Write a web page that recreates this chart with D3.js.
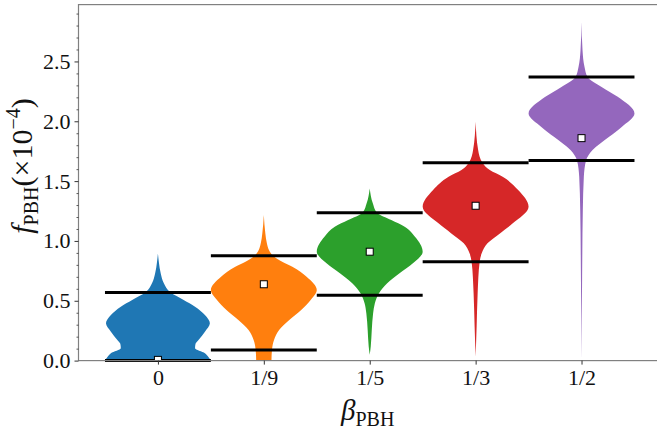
<!DOCTYPE html>
<html>
<head>
<meta charset="utf-8">
<script src="https://cdn.jsdelivr.net/npm/d3@7"></script>
<style>
  html, body { margin: 0; padding: 0; background: #fff; }
  svg { display: block; }
</style>
</head>
<body>
<svg id="chart" width="657" height="430"></svg>
<script>
// beta_PBH groups and their colours
const categories = ["0", "1/9", "1/5", "1/3", "1/2"];
const colors = ["#1f77b4", "#ff7f0e", "#2ca02c", "#d62728", "#9467bd"];

// posterior medians and bounds of f_PBH (units of 1e-4)
const medians = [0.006, 0.638, 0.910, 1.294, 1.859];
const upperBounds = [0.570, 0.876, 1.235, 1.653, 2.371];
const lowerBounds = [0.000, 0.089, 0.546, 0.826, 1.673];

const yTicks = [0, 0.5, 1.0, 1.5, 2.0, 2.5];

// posterior density profiles: [f_PBH, relative density]
const density0 = [[0.000, 53.5], [0.030, 51], [0.062, 47.5], [0.103, 37.5], [0.140, 38],
  [0.173, 41], [0.242, 47.5], [0.312, 52.5], [0.381, 47.5], [0.451, 37.5], [0.507, 26],
  [0.571, 12.5], [0.646, 6], [0.730, 2.8], [0.820, 1], [0.896, 0]];
const density1 = [[0.000, 7.5], [0.089, 8], [0.173, 10], [0.256, 15], [0.340, 25],
  [0.423, 36.7], [0.507, 46], [0.590, 52], [0.701, 42], [0.785, 28], [0.826, 18],
  [0.876, 9], [0.924, 5], [0.980, 3], [1.063, 1.5], [1.216, 0]];
const density2 = [[0.048, 0], [0.117, 1], [0.256, 2], [0.396, 3.3], [0.479, 5],
  [0.563, 9], [0.646, 17], [0.730, 29], [0.813, 42], [0.910, 51.5], [1.035, 44],
  [1.119, 34], [1.175, 21], [1.236, 7], [1.314, 3], [1.439, 0]];
const density3 = [[0.033, 0], [0.284, 1], [0.563, 2], [0.826, 4], [0.897, 6],
  [0.980, 11.7], [1.063, 24], [1.147, 36.7], [1.286, 52.3], [1.425, 42], [1.536, 26.7],
  [1.592, 14], [1.653, 6.7], [1.759, 2.5], [1.995, 0]];
const density4 = [[0.006, 0], [0.701, 0.6], [1.258, 1.3], [1.536, 2.3], [1.673, 4.5],
  [1.759, 11], [1.870, 27.5], [1.953, 40], [2.065, 52.7], [2.204, 36], [2.287, 20],
  [2.371, 6], [2.454, 3], [2.594, 1], [2.830, 0]];
const densities = [density0, density1, density2, density3, density4];

const svg = d3.select("#chart");
const plotLeft = 78.5, plotTop = 4.6, plotBottom = 360.6;
const plotRight = plotLeft + 5.5 * 105.9;

const x = d3.scaleLinear().domain([0.25, 5.75]).range([plotLeft, plotRight]);
const y = d3.scaleLinear().domain([0, 2.975]).range([plotBottom, plotTop]);

const serif = "'Liberation Serif', 'DejaVu Serif', serif";

svg.append("defs").append("clipPath").attr("id", "plot-clip")
  .append("rect").attr("x", plotLeft).attr("y", plotTop)
  .attr("width", plotRight - plotLeft).attr("height", plotBottom - plotTop);

// violins
const plot = svg.append("g").attr("clip-path", "url(#plot-clip)");
densities.forEach((dens, i) => {
  const pos = i + 1;
  const maxD = d3.max(dens, d => d[1]);
  const half = d => 0.5 * d[1] / maxD;
  const pts = dens.slice().sort((a, b) => b[0] - a[0]);
  const area = d3.area()
    .curve(d3.curveMonotoneY)
    .y(d => y(d[0]))
    .x0(d => x(pos - half(d)))
    .x1(d => x(pos + half(d)));
  plot.append("path")
    .attr("d", area(pts))
    .attr("fill", colors[i])
    .attr("stroke", "none");
});

// bound lines
const bounds = svg.append("g");
categories.forEach((c, i) => {
  const pos = i + 1;
  [upperBounds[i], lowerBounds[i]].forEach(v => {
    bounds.append("line")
      .attr("x1", x(pos - 0.5)).attr("x2", x(pos + 0.5))
      .attr("y1", y(v)).attr("y2", y(v))
      .attr("stroke", "#000").attr("stroke-width", 3);
  });
});

// median markers
const markers = svg.append("g").attr("clip-path", "url(#plot-clip)");
medians.forEach((m, i) => {
  markers.append("rect")
    .attr("x", x(i + 1) - 3.5).attr("y", y(m) - 3.5)
    .attr("width", 7).attr("height", 7)
    .attr("fill", "#fff").attr("stroke", "#000").attr("stroke-width", 1);
});

// spines
const spines = svg.append("g").attr("stroke", "#808080").attr("stroke-width", 1.2).attr("fill", "none");
spines.append("rect").attr("x", plotLeft).attr("y", plotTop)
  .attr("width", plotRight - plotLeft).attr("height", plotBottom - plotTop);

// y axis
const yAxis = d3.axisLeft(y).tickValues(yTicks).tickFormat(d3.format(".1f"))
  .tickSize(4).tickPadding(4);
const gy = svg.append("g").attr("transform", `translate(${plotLeft},0)`).call(yAxis);
gy.select(".domain").remove();
gy.selectAll(".tick line").attr("stroke", "#333").attr("stroke-width", 1);
gy.selectAll(".tick text").attr("font-family", serif).attr("font-size", 22)
  .attr("fill", "#111");

const minor = d3.range(0, 2.95, 0.1).filter(v => Math.abs(v * 2 - Math.round(v * 2)) > 1e-6);
const gyMinor = d3.axisLeft(y).tickValues(minor).tickFormat("").tickSize(2);
const gm = svg.append("g").attr("transform", `translate(${plotLeft},0)`).call(gyMinor);
gm.select(".domain").remove();
gm.selectAll(".tick line").attr("stroke", "#333").attr("stroke-width", 0.8);

// x axis
const xAxis = d3.axisBottom(x).tickValues([1, 2, 3, 4, 5])
  .tickFormat((d, i) => categories[i]).tickSize(4).tickPadding(5);
const gx = svg.append("g").attr("transform", `translate(0,${plotBottom})`).call(xAxis);
gx.select(".domain").remove();
gx.selectAll(".tick line").attr("stroke", "#333").attr("stroke-width", 1);
gx.selectAll(".tick text").attr("font-family", serif).attr("font-size", 22)
  .attr("fill", "#111");

// axis labels
const xl = svg.append("text")
  .attr("x", (plotLeft + plotRight) / 2 - 2).attr("y", 420)
  .attr("text-anchor", "middle").attr("font-family", serif).attr("font-size", 29)
  .attr("fill", "#111");
xl.append("tspan").attr("font-style", "italic").text("β");
xl.append("tspan").attr("font-size", 20).attr("dy", 6).text("PBH");

const yl = svg.append("text")
  .attr("transform", "translate(32,166) rotate(-90)")
  .attr("text-anchor", "middle").attr("font-family", serif).attr("font-size", 30)
  .attr("fill", "#111");
yl.append("tspan").attr("font-style", "italic").text("f");
yl.append("tspan").attr("font-size", 20).attr("dy", 6).text("PBH");
yl.append("tspan").attr("dy", -6).text("(×10");
yl.append("tspan").attr("font-size", 20).attr("dy", -12).text("−4");
yl.append("tspan").attr("dy", 12).text(")");
</script>
</body>
</html>
